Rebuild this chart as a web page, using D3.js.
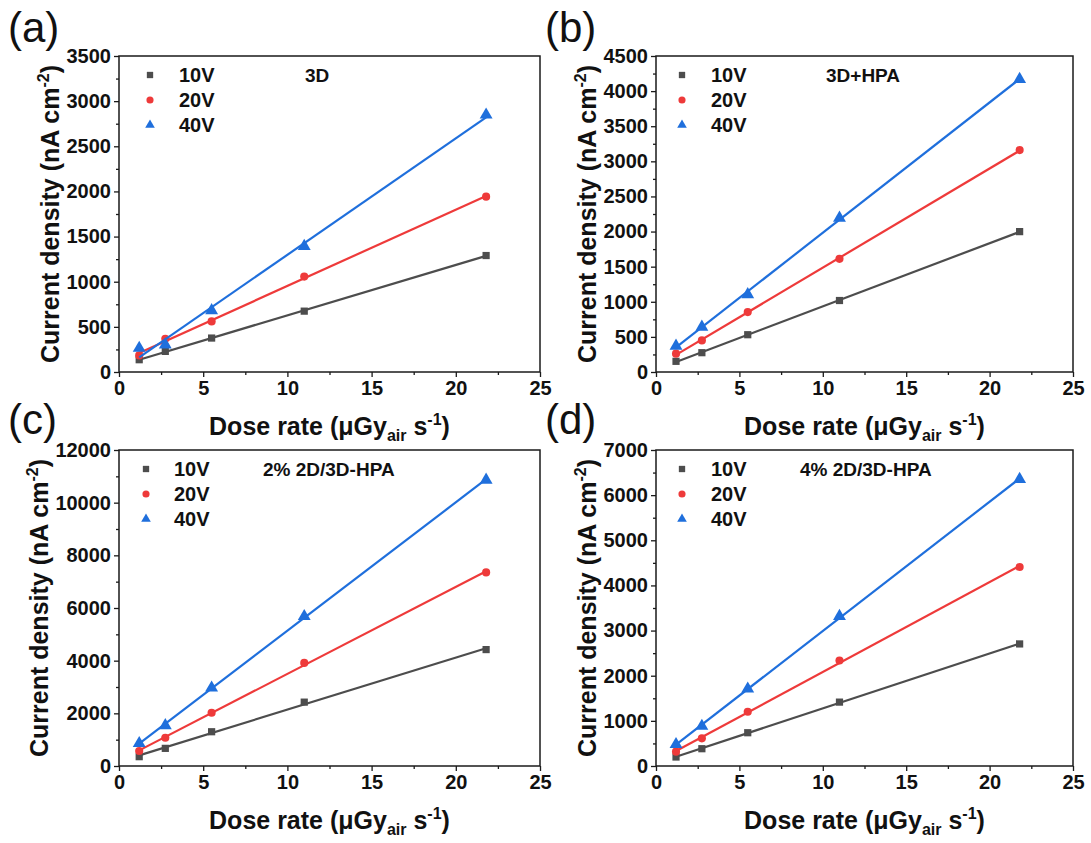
<!DOCTYPE html>
<html>
<head>
<meta charset="utf-8">
<script src="https://cdn.jsdelivr.net/npm/d3@7"></script>
<style>
  html, body { margin: 0; padding: 0; background: #fff; }
  svg text { font-family: "Liberation Sans", Arial, sans-serif; }
</style>
</head>
<body>
<svg id="chart" width="1091" height="843"></svg>
<script>
// ---------------- DATA ----------------
const doseRate = [1.2, 2.75, 5.5, 11, 21.8];
const seriesNames = ["10V", "20V", "40V"];

const a10V = [136, 228, 376, 674, 1290];
const a20V = [184, 368, 560, 1057, 1942];
const a40V = [265, 302, 682, 1393, 2848];

const b10V = [152, 275, 531, 1018, 1999];
const b20V = [261, 450, 853, 1611, 3160];
const b40V = [370, 640, 1104, 2193, 4170];

const c10V = [354, 670, 1301, 2425, 4421];
const c20V = [568, 1074, 2021, 3916, 7352];
const c40V = [859, 1541, 2968, 5684, 10863];

const d10V = [199, 383, 737, 1415, 2704];
const d20V = [317, 612, 1201, 2336, 4407];
const d40V = [479, 884, 1709, 3316, 6352];

const xTicks = [0, 5, 10, 15, 20, 25];
const aYTicks = [0, 500, 1000, 1500, 2000, 2500, 3000, 3500];
const bYTicks = [0, 500, 1000, 1500, 2000, 2500, 3000, 3500, 4000, 4500];
const cYTicks = [0, 2000, 4000, 6000, 8000, 10000, 12000];
const dYTicks = [0, 1000, 2000, 3000, 4000, 5000, 6000, 7000];

const panelLetters = ["(a)", "(b)", "(c)", "(d)"];
const panelNotes = ["3D", "3D+HPA", "2% 2D/3D-HPA", "4% 2D/3D-HPA"];

// ---------------- STYLE / LAYOUT ----------------
const colors = ["#4d4d4d", "#ee3a3a", "#1f6fdc"];
const shapes = [d3.symbolSquare, d3.symbolCircle, d3.symbolTriangle];
const markerSize = [52, 52, 72];

const panels = [
  { letter: panelLetters[0], note: panelNotes[0], series: [a10V, a20V, a40V], yTicks: aYTicks,
    left: 119, top: 56, right: 540, bottom: 372, legX: 31, txtX: 60, noteX: 186, lx: 8, ly: 42, yTitleOff: 60 },
  { letter: panelLetters[1], note: panelNotes[1], series: [b10V, b20V, b40V], yTicks: bYTicks,
    left: 656, top: 56, right: 1073, bottom: 372, legX: 26, txtX: 55, noteX: 170, lx: 545, ly: 42, yTitleOff: 60 },
  { letter: panelLetters[2], note: panelNotes[2], series: [c10V, c20V, c40V], yTicks: cYTicks,
    left: 119, top: 450, right: 540, bottom: 766, legX: 27, txtX: 55, noteX: 144, lx: 8, ly: 434, yTitleOff: 71 },
  { letter: panelLetters[3], note: panelNotes[3], series: [d10V, d20V, d40V], yTicks: dYTicks,
    left: 656, top: 450, right: 1073, bottom: 766, legX: 26, txtX: 55, noteX: 144, lx: 545, ly: 434, yTitleOff: 60 }
];

const svg = d3.select("#chart");

function linFit(xs, ys) {
  const n = xs.length;
  const mx = d3.mean(xs), my = d3.mean(ys);
  let sxy = 0, sxx = 0;
  for (let i = 0; i < n; i++) { sxy += (xs[i] - mx) * (ys[i] - my); sxx += (xs[i] - mx) ** 2; }
  const k = sxy / sxx;
  return { k, b: my - k * mx };
}

panels.forEach(p => {
  const g = svg.append("g");
  const yMax = p.yTicks[p.yTicks.length - 1];
  const x = d3.scaleLinear().domain([0, 25]).range([p.left, p.right]);
  const y = d3.scaleLinear().domain([0, yMax]).range([p.bottom, p.top]);

  const yStep = p.yTicks[1] - p.yTicks[0];
  const yMinor = p.yTicks.slice(0, -1).map(v => v + yStep / 2);
  const xMinor = xTicks.slice(0, -1).map(v => v + 2.5);

  g.append("g").attr("transform", `translate(0,${p.bottom})`)
    .call(d3.axisBottom(x).tickValues(xTicks).tickSize(5).tickPadding(4).tickSizeOuter(0).tickFormat(d3.format("d")));
  g.append("g").attr("transform", `translate(0,${p.bottom})`)
    .call(d3.axisBottom(x).tickValues(xMinor).tickSize(3).tickFormat("").tickSizeOuter(0));
  g.append("g").attr("transform", `translate(${p.left},0)`)
    .call(d3.axisLeft(y).tickValues(p.yTicks).tickSize(5).tickPadding(3).tickSizeOuter(0).tickFormat(d3.format("d")));
  g.append("g").attr("transform", `translate(${p.left},0)`)
    .call(d3.axisLeft(y).tickValues(yMinor).tickSize(3).tickFormat("").tickSizeOuter(0));

  g.selectAll(".domain").remove();
  g.selectAll(".tick line").attr("stroke", "#1a1a1a").attr("stroke-width", 1.3);
  g.selectAll(".tick text").attr("font-size", 20).attr("font-weight", "bold")
    .attr("fill", "#111").style("font-family", '"Liberation Sans", Arial, sans-serif');

  // frame
  g.append("rect").attr("x", p.left).attr("y", p.top)
    .attr("width", p.right - p.left).attr("height", p.bottom - p.top)
    .attr("fill", "none").attr("stroke", "#1a1a1a").attr("stroke-width", 1.5);

  // fits and points
  p.series.forEach((ys, si) => {
    const f = linFit(doseRate, ys);
    const x0 = doseRate[0], x1 = doseRate[doseRate.length - 1];
    g.append("line")
      .attr("x1", x(x0)).attr("y1", y(f.k * x0 + f.b))
      .attr("x2", x(x1)).attr("y2", y(f.k * x1 + f.b))
      .attr("stroke", colors[si]).attr("stroke-width", 2.2);
    g.selectAll(null).data(ys).enter().append("path")
      .attr("d", d3.symbol().type(shapes[si]).size(markerSize[si]))
      .attr("transform", (v, i) => `translate(${x(doseRate[i])},${y(v)})`)
      .attr("fill", colors[si]);
  });

  // legend
  seriesNames.forEach((name, si) => {
    const ry = p.top + 19 + si * 25;
    g.append("path")
      .attr("d", d3.symbol().type(shapes[si]).size(40))
      .attr("transform", `translate(${p.left + p.legX},${ry})`)
      .attr("fill", colors[si]);
    g.append("text").attr("x", p.left + p.txtX).attr("y", ry + 7)
      .attr("font-size", 20).attr("font-weight", "bold").attr("fill", "#111").text(name);
  });

  // annotation
  g.append("text").attr("x", p.left + p.noteX).attr("y", p.top + 26)
    .attr("font-size", 19).attr("font-weight", "bold").attr("fill", "#111").text(p.note);

  // panel letter
  svg.append("text").attr("x", p.lx).attr("y", p.ly)
    .attr("font-size", 42).attr("fill", "#111").text(p.letter);

  // x title
  const xt = g.append("text").attr("x", (p.left + p.right) / 2).attr("y", p.bottom + 63)
    .attr("text-anchor", "middle").attr("font-size", 25).attr("font-weight", "bold").attr("fill", "#111");
  xt.append("tspan").text("Dose rate (μGy");
  xt.append("tspan").attr("font-size", 16).attr("dy", 6).text("air");
  xt.append("tspan").attr("dy", -6).text(" s");
  xt.append("tspan").attr("font-size", 16).attr("dy", -10).text("-1");
  xt.append("tspan").attr("dy", 10).text(")");

  // y title
  const cy = (p.top + p.bottom) / 2;
  const yt = g.append("text").attr("transform", `translate(${p.left - p.yTitleOff},${cy}) rotate(-90)`)
    .attr("text-anchor", "middle").attr("font-size", 25).attr("font-weight", "bold").attr("fill", "#111");
  yt.append("tspan").text("Current density (nA cm");
  yt.append("tspan").attr("font-size", 16).attr("dy", -10).text("-2");
  yt.append("tspan").attr("dy", 10).text(")");
});
</script>
</body>
</html>
